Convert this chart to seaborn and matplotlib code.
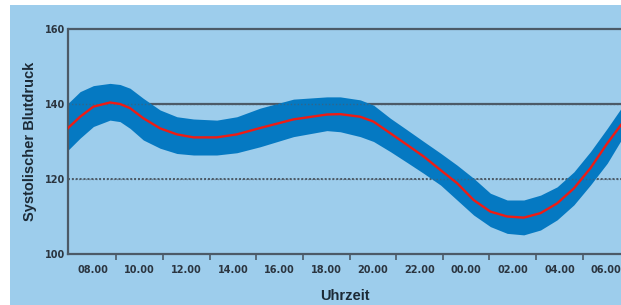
import matplotlib
matplotlib.use("Agg")
import matplotlib.pyplot as plt
import seaborn as sns
import pandas as pd
from matplotlib.patches import Rectangle

# -----------------------------------------------------
# Data, hour of day, 24+ = next day
# -----------------------------------------------------

hours = [6.90, 7.45, 8.02, 8.73, 9.16, 9.59, 10.16, 10.88, 11.60, 12.31,
         13.31, 14.17, 15.17, 16.60, 18.03, 18.60, 19.46, 20.03, 20.75,
         21.47, 22.18, 22.90, 23.61, 24.32, 25.04, 25.76, 26.47, 27.19,
         27.90, 28.62, 29.33, 30.05, 30.66]
mean_bp = [133.4, 136.6, 139.3, 140.4, 140.0, 138.9, 136.2, 133.5, 131.9,
           131.1, 131.1, 131.9, 133.6, 135.9, 137.2, 137.3, 136.6, 135.3,
           132.2, 129.1, 126.0, 122.4, 118.9, 114.4, 111.3, 110.0, 109.7,
           110.9, 113.5, 117.5, 122.9, 129.5, 134.6]
upper_bp = [140.0, 143.3, 144.9, 145.5, 145.2, 144.2, 141.5, 138.4, 136.6,
            136.0, 135.7, 136.6, 138.9, 141.3, 141.9, 141.9, 141.1, 139.7,
            136.2, 133.1, 130.0, 126.9, 123.7, 120.2, 116.2, 114.4, 114.4,
            115.7, 117.9, 121.9, 127.3, 133.5, 139.0]
lower_bp = [127.5, 130.9, 134.0, 135.7, 135.3, 133.5, 130.4, 128.2, 126.8,
            126.4, 126.4, 127.0, 128.6, 131.3, 132.9, 132.6, 131.3, 130.0,
            127.3, 124.4, 121.5, 118.4, 114.4, 110.4, 107.3, 105.5, 105.1,
            106.4, 109.1, 113.1, 118.4, 124.2, 130.5]

tick_hours = [8, 10, 12, 14, 16, 18, 20, 22, 24, 26, 28, 30]
tick_labels = ["08.00", "10.00", "12.00", "14.00", "16.00", "18.00",
               "20.00", "22.00", "00.00", "02.00", "04.00", "06.00"]
y_ticks = [100, 120, 140, 160]

df = pd.DataFrame({"Uhrzeit": hours, "Blutdruck": mean_bp})

# -----------------------------------------------------
# Figure
# -----------------------------------------------------

sns.set_style("white")

bg = "#9dcdec"
band_col = "#0579c2"
grid_col = "#4c5a67"
text_col = "#1c2a36"

fig = plt.figure(figsize=(6.21, 3.05), dpi=100, facecolor="white")
fig.add_artist(Rectangle((10 / 621, 0), 1, 1 - 5 / 305,
                         transform=fig.transFigure, facecolor=bg,
                         edgecolor="none", zorder=-10))

ax = fig.add_axes([68 / 621, 1 - 254 / 305, 1 - 68 / 621, (254 - 29) / 305])
ax.set_facecolor(bg)

# gridlines
ax.axhline(160, color=grid_col, lw=1.6, zorder=1, clip_on=False)
ax.axhline(140, color=grid_col, lw=1.6, zorder=1)
ax.axhline(120, color=grid_col, lw=1.4, ls=(0, (1, 1)), zorder=1)

# band + mean line
ax.fill_between(hours, lower_bp, upper_bp, color=band_col, lw=0, zorder=2)
ax.axhline(140, color=grid_col, lw=1.0, ls=(0, (1, 1.5)), zorder=3, alpha=0.6)
ax.axhline(120, color=grid_col, lw=1.0, ls=(0, (1, 1.5)), zorder=3, alpha=0.6)
sns.lineplot(data=df, x="Uhrzeit", y="Blutdruck", ax=ax, sort=False,
             color="#ee1c14", lw=1.7, zorder=4)

# -----------------------------------------------------
# Axes styling
# -----------------------------------------------------

ax.set_xlim(6.93, 30.64)
ax.set_ylim(100, 160)

ax.set_xticks(tick_hours)
ax.set_xticklabels(tick_labels)
ax.set_xticks([h + 1 for h in tick_hours[:-1]], minor=True)
ax.set_yticks(y_ticks)

ax.tick_params(axis="x", which="major", bottom=True, length=0, pad=8,
               labelsize=7, labelcolor="#2b3540")
ax.tick_params(axis="x", which="minor", bottom=True, length=4, width=1.2,
               color=grid_col, direction="out")
ax.tick_params(axis="y", length=0, pad=2, labelsize=7, labelcolor="#2b3540")
for lbl in ax.get_xticklabels() + ax.get_yticklabels():
    lbl.set_fontweight("bold")

for side in ["top", "right"]:
    ax.spines[side].set_visible(False)
for side in ["left", "bottom"]:
    ax.spines[side].set_color(grid_col)
    ax.spines[side].set_linewidth(1.6)

ax.set_xlabel("Uhrzeit", family="Liberation Sans", fontweight="bold",
              fontsize=10.5, color=text_col, labelpad=10)
ax.set_ylabel("Systolischer Blutdruck", family="Liberation Sans",
              fontweight="bold", fontsize=10.5, color=text_col, labelpad=6)

fig.savefig("out.png", dpi=100, facecolor="white")
